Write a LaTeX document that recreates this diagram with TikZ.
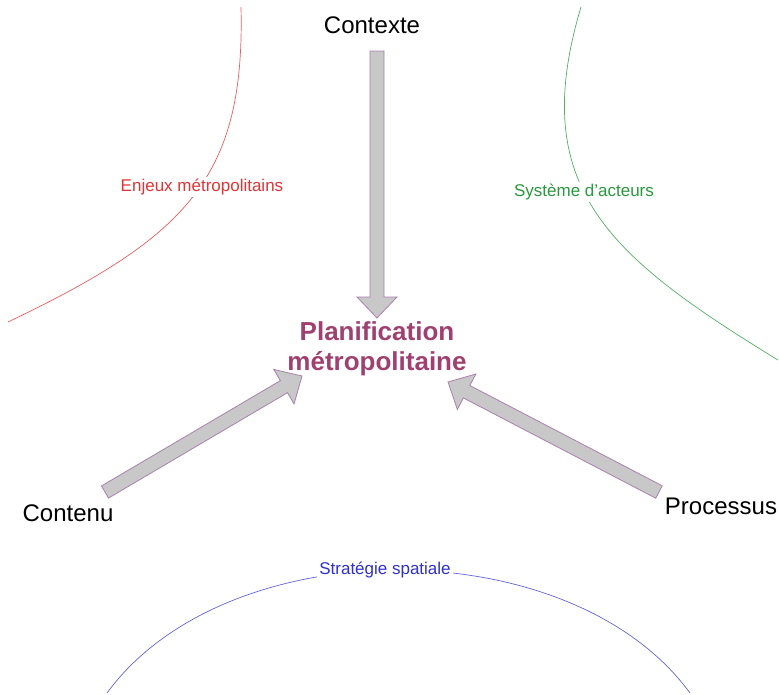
\documentclass[tikz,border=0pt]{standalone}
\usepackage{fontspec}
\setmainfont{Liberation Sans}
\usetikzlibrary{calc}
\definecolor{planif}{RGB}{160,64,112}
\definecolor{enjeux}{RGB}{226,52,52}
\definecolor{acteurs}{RGB}{42,152,62}
\definecolor{strat}{RGB}{48,48,205}
\definecolor{arrfill}{RGB}{200,200,200}
\definecolor{arrline}{RGB}{170,128,175}
\tikzstyle{pole}=[font=\fontsize{24}{28}\selectfont, inner sep=2pt]
\tikzstyle{theme}=[font=\fontsize{17}{20}\selectfont, fill=white, inner sep=2pt]
\tikzstyle{blockarr}=[fill=arrfill, draw=arrline, line width=0.8pt, line join=miter]
\tikzstyle{rim}=[line width=0.7pt]
\newcommand{\pole}{\node[pole]}
\newcommand{\theme}{\node[theme]}
% #1 = tail, #2 = tip
\newcommand{\blockarrow}[2]{%
  \coordinate (#1-h) at ($(#2)!21pt!(#1)$);
  \draw[blockarr] ($(#1)!7pt!90:(#2)$) -- ($(#1-h)!7pt!90:(#2)$)
    -- ($(#1-h)!20pt!90:(#2)$) -- (#2) -- ($(#1-h)!20pt!-90:(#2)$)
    -- ($(#1-h)!7pt!-90:(#2)$) -- ($(#1)!7pt!-90:(#2)$) -- cycle;}

\begin{document}
\begin{tikzpicture}[x=1pt, y=1pt]
\useasboundingbox (0,0) rectangle (779,-694);

% the four rims
\draw[rim, enjeux!80!white] (241,-7) .. controls (245,-177) and (188,-236) .. (8,-322);
\draw[rim, acteurs!80!white] (581,-7) .. controls (527,-187) and (608,-256) .. (778,-360);
\draw[rim, strat!75!white] (107,-693) .. controls (227,-529) and (570,-529) .. (690,-693);

\theme[text=enjeux] (enj) at (202,-187) {Enjeux métropolitains};
\theme[text=acteurs] (act) at (584,-192) {Système d’acteurs};
\theme[text=strat] (str) at (385,-570) {Stratégie spatiale};

\pole (ctx) at (372,-25) {Contexte};
\pole (cont) at (68,-513) {Contenu};
\pole (proc) at (721,-506) {Processus};
\node[font=\fontsize{26}{30}\selectfont\bfseries, text=planif, align=center]
  (plan) at (377,-349) {Planification\\métropolitaine};

\coordinate (ctx-tail) at (377,-51);
\coordinate (ctx-tip) at (377,-318);
\coordinate (cont-tail) at (105,-492);
\coordinate (cont-tip) at (302,-376);
\coordinate (proc-tail) at (659,-492);
\coordinate (proc-tip) at (448,-382);
\blockarrow{ctx-tail}{ctx-tip}
\blockarrow{cont-tail}{cont-tip}
\blockarrow{proc-tail}{proc-tip}
\end{tikzpicture}
\end{document}
